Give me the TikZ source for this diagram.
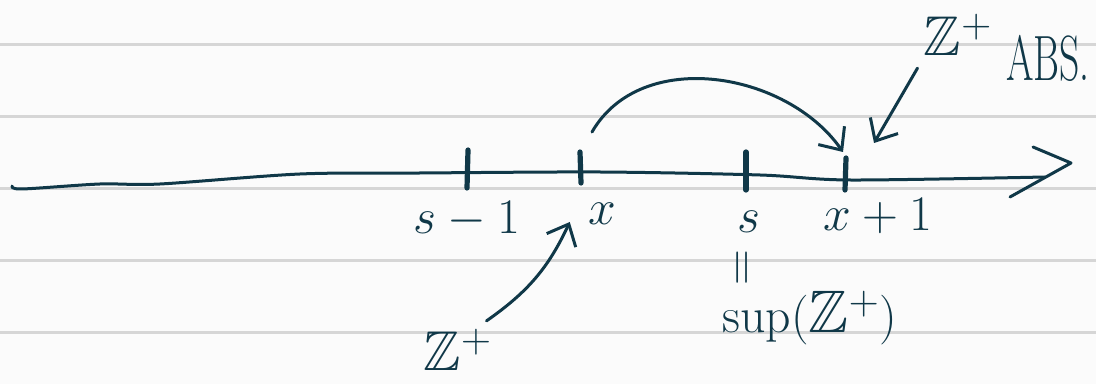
\documentclass[tikz,border=0pt]{standalone}
\usepackage{amssymb}
\usetikzlibrary{arrows.meta}
\definecolor{ink}{RGB}{16,56,72}
\definecolor{ruling}{RGB}{214,214,214}
\definecolor{paper}{RGB}{251,251,251}
\tikzset{
  pen/.style={draw=ink, line width=1.5pt, line cap=round, line join=round},
  tickmark/.style={draw=ink, line width=2.6pt, line cap=round},
  arr/.style={pen, -{Straight Barb[length=9pt,width=16pt,line width=1.5pt]}},
  lbl/.style={text=ink, inner sep=0pt, font=\fontsize{28}{30}\selectfont},
}
\begin{document}
\begin{tikzpicture}[x=0.5pt,y=-0.5pt]
\fill[paper] (0,0) rectangle (1096,384);
\useasboundingbox (0,0) rectangle (1096,384);
% ruled paper
\foreach \y in {45,117,189,261,333}
  \draw[ruling, line width=1.5pt] (0,\y) -- (1096,\y);
% number line
\draw[pen] plot[smooth] coordinates {(12,186) (22,189) (100,184) (160,184) (300,174) (420,173) (600,172) (760,175) (850,180) (1045,177)};
\draw[pen] (1033,147) -- (1071,163) -- (1010,197);
% ticks
\draw[tickmark] (468,150) coordinate (tsm) -- (467,188);
\draw[tickmark] (580,152) coordinate (tx) -- (581,183);
\draw[tickmark] (746,152) coordinate (ts) -- (746,190);
\draw[tickmark] (846,158) coordinate (txp) -- (845,190);
% labels
\node[lbl] (lsm) at (467,220) {$s-1$};
\node[lbl] (lx) at (602,214) {$x$};
\node[lbl] (ls) at (749,222) {$s$};
\node[lbl] (lxp) at (878,216) {$x+1$};
\node[lbl, rotate=90] (leq) at (746,268) {$=$};
\node[lbl, font=\fontsize{30}{32}\selectfont] (lsup) at (810,318) {$\sup(\mathbb{Z}^+)$};
\node[lbl] (lz) at (458,350) {$\mathbb{Z}^+$};
\node[lbl] (lzt) at (958,35) {$\mathbb{Z}^+$};
\node[lbl, font=\fontsize{32}{34}\selectfont] (labs) at (1048,58) {\scalebox{0.62}[1]{ABS.}};
% arrows
\draw[arr] ([shift={(-3pt,4pt)}]lz.north east) to[out=35,in=-115] ([shift={(-9pt,-4pt)}]lx.west);
\draw[arr] ([shift={(6pt,10pt)}]tx) to[out=60,in=125] ([shift={(-1.5pt,3pt)}]txp);
\draw[arr] ([shift={(-3pt,-6pt)}]lzt.south west) -- ([shift={(14pt,7.5pt)}]txp);
\end{tikzpicture}
\end{document}
